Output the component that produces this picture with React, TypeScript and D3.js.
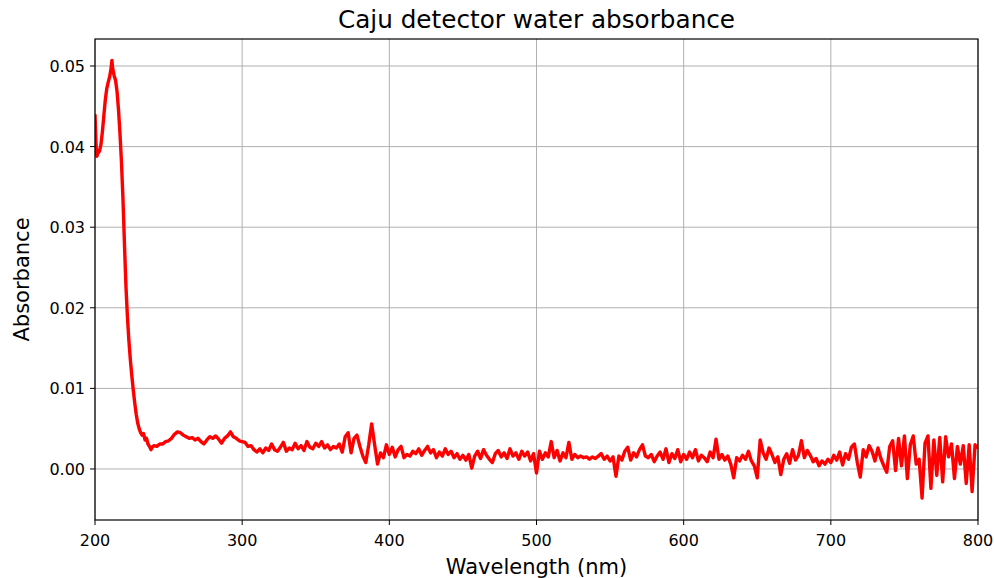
import React from "react";
import * as d3 from "d3";

// UV peak region (wavelength nm, absorbance)
const peakRegion: [number, number][] = [
  [200, 0.044], [200.7, 0.0402], [201.3, 0.0388], [202, 0.0392], [203, 0.0394], [204, 0.0402],
  [205, 0.0418], [206, 0.0438], [207, 0.0458], [208, 0.0472], [209, 0.048], [210, 0.0487],
  [211, 0.0498], [211.5, 0.0507], [212, 0.0497], [213, 0.0488], [214, 0.0482], [215, 0.0468],
  [216, 0.0445], [217, 0.0415], [218, 0.038], [219, 0.0335], [220, 0.028], [221, 0.0228],
  [222, 0.019], [223, 0.016], [224, 0.0136], [225, 0.0116], [226, 0.0098], [227, 0.0082],
  [228, 0.0068], [229, 0.0057], [230, 0.005], [231, 0.0045], [232, 0.0042], [233, 0.0044],
  [234, 0.0036], [235, 0.0038], [236, 0.0031], [237, 0.0028], [238, 0.0024], [239, 0.0027],
  [240, 0.0029],
];

// 242 – 400 nm
const nearUV: [number, number][] = [
  [242, 0.0028], [244, 0.0031], [246, 0.0031], [248, 0.0034], [250, 0.0035], [252, 0.0038],
  [254, 0.0043], [256, 0.0046], [258, 0.0045], [260, 0.0042], [262, 0.004], [264, 0.0038],
  [266, 0.0039], [268, 0.0036], [270, 0.0038], [272, 0.0034], [274, 0.0031], [276, 0.0036],
  [278, 0.004], [280, 0.0038], [282, 0.0041], [284, 0.0037], [286, 0.0032], [288, 0.0038],
  [290, 0.0041], [292, 0.0046], [294, 0.004], [296, 0.0038], [298, 0.0035], [300, 0.0034],
  [302, 0.0033], [304, 0.0028], [306, 0.0029], [308, 0.0024], [310, 0.0021], [312, 0.0025],
  [314, 0.002], [316, 0.0026], [318, 0.0023], [320, 0.0031], [322, 0.0024], [324, 0.0022],
  [326, 0.0027], [328, 0.0033], [330, 0.0022], [332, 0.0026], [334, 0.0024], [336, 0.0032],
  [338, 0.0025], [340, 0.0029], [342, 0.0023], [344, 0.0034], [346, 0.0027], [348, 0.0025],
  [350, 0.0032], [352, 0.0028], [354, 0.0034], [356, 0.0026], [358, 0.003], [360, 0.0024],
  [362, 0.0028], [364, 0.0026], [366, 0.0031], [368, 0.0021], [370, 0.004], [372, 0.0045],
  [374, 0.002], [376, 0.0038], [378, 0.0042], [380, 0.0028], [382, 0.0016], [384, 0.0008],
  [386, 0.003], [388, 0.0056], [390, 0.003], [392, 0.0006], [394, 0.002], [396, 0.0014],
  [398, 0.003], [400, 0.0018],
];

// 402 – 600 nm
const visibleMid: [number, number][] = [
  [402, 0.0027], [404, 0.0015], [406, 0.0024], [408, 0.0028], [410, 0.0014], [412, 0.0018],
  [414, 0.0016], [416, 0.0022], [418, 0.0019], [420, 0.0025], [422, 0.0017], [424, 0.0023],
  [426, 0.0028], [428, 0.002], [430, 0.0024], [432, 0.0014], [434, 0.0021], [436, 0.0016],
  [438, 0.0025], [440, 0.0018], [442, 0.0022], [444, 0.0014], [446, 0.0019], [448, 0.0012],
  [450, 0.0017], [452, 0.0011], [454, 0.0018], [456, 0.0001], [458, 0.0016], [460, 0.0022],
  [462, 0.0013], [464, 0.0024], [466, 0.0017], [468, 0.0012], [470, 0.0008], [472, 0.0019],
  [474, 0.0023], [476, 0.0015], [478, 0.002], [480, 0.0013], [482, 0.0025], [484, 0.0016],
  [486, 0.002], [488, 0.0012], [490, 0.0022], [492, 0.0016], [494, 0.0021], [496, 0.001],
  [498, 0.0019], [500, -0.0005], [502, 0.0022], [504, 0.0012], [506, 0.002], [508, 0.0015],
  [510, 0.0034], [512, 0.0014], [514, 0.0023], [516, 0.001], [518, 0.002], [520, 0.0014],
  [522, 0.0033], [524, 0.0012], [526, 0.0018], [528, 0.0014], [530, 0.0016], [532, 0.0014],
  [534, 0.0015], [536, 0.0012], [538, 0.0015], [540, 0.0013], [542, 0.0016], [544, 0.0019],
  [546, 0.0012], [548, 0.0016], [550, 0.001], [552, 0.0015], [554, -0.0009], [556, 0.0016],
  [558, 0.0011], [560, 0.0022], [562, 0.0027], [564, 0.0011], [566, 0.002], [568, 0.0015],
  [570, 0.0024], [572, 0.003], [574, 0.0016], [576, 0.0014], [578, 0.0018], [580, 0.0009],
  [582, 0.0016], [584, 0.0021], [586, 0.0012], [588, 0.0025], [590, 0.0008], [592, 0.0019],
  [594, 0.0013], [596, 0.0024], [598, 0.0009], [600, 0.0018],
];

// 602 – 800 nm
const visibleRed: [number, number][] = [
  [602, 0.0012], [604, 0.0021], [606, 0.0014], [608, 0.0024], [610, 0.001], [612, 0.0017],
  [614, 0.0014], [616, 0.0009], [618, 0.0021], [620, 0.0014], [622, 0.0037], [624, 0.0012],
  [626, 0.0018], [628, 0.0011], [630, 0.0016], [632, 0.0006], [634, -0.0011], [636, 0.0014],
  [638, 0.001], [640, 0.0017], [642, 0.0012], [644, 0.0022], [646, 0.001], [648, 0.0004],
  [650, -0.0011], [652, 0.0036], [654, 0.002], [656, 0.0012], [658, 0.0026], [660, 0.0018],
  [662, 0.0008], [664, 0.0015], [666, -0.0007], [668, 0.0012], [670, 0.0019], [672, 0.0007],
  [674, 0.0024], [676, 0.0011], [678, 0.0017], [680, 0.0035], [682, 0.0014], [684, 0.0023],
  [686, 0.0017], [688, 0.0009], [690, 0.0013], [692, 0.0004], [694, 0.001], [696, 0.0006],
  [698, 0.0012], [700, 0.0008], [702, 0.0017], [704, 0.0011], [706, 0.0021], [708, 0.0005],
  [710, 0.0019], [712, 0.0012], [714, 0.0027], [716, 0.0031], [718, 0.0008], [720, -0.001],
  [722, 0.0024], [724, 0.0015], [726, 0.0029], [728, 0.0022], [730, 0.001], [732, 0.0026],
  [734, 0.0013], [736, 0.0004], [738, -0.0004], [740, 0.0028], [742, 0.0035], [744, -0.0002],
  [746, 0.0038], [748, 0.0004], [750, 0.0041], [752, -0.0012], [754, 0.003], [756, 0.0041],
  [758, 0.0006], [760, 0.0012], [762, -0.0036], [764, 0.0032], [766, 0.0041], [768, -0.0024],
  [770, 0.0036], [772, -0.0008], [774, 0.0039], [776, -0.0016], [778, 0.004], [780, 0.0015],
  [782, 0.0031], [784, -0.0012], [786, 0.0028], [788, 0.0006], [790, 0.0029], [792, -0.0018],
  [794, 0.003], [796, -0.0028], [798, 0.003], [800, 0.0026],
];

const xTicks = [200, 300, 400, 500, 600, 700, 800];
const yTicks = [0, 0.01, 0.02, 0.03, 0.04, 0.05];
const yTickLabels = ["0.00", "0.01", "0.02", "0.03", "0.04", "0.05"];

const W = 994;
const H = 578;
const M = { left: 95, right: 978, top: 39, bottom: 520 };
const FONT = "DejaVu Sans, sans-serif";

export default function App() {
  const data = [...peakRegion, ...nearUV, ...visibleMid, ...visibleRed];
  const x = d3.scaleLinear().domain([200, 800]).range([M.left, M.right]);
  const y = d3.scaleLinear().domain([-0.00633, 0.05335]).range([M.bottom, M.top]);
  const line = d3
    .line<[number, number]>()
    .x((d) => x(d[0]))
    .y((d) => y(d[1]));

  return (
    <svg
      width={W}
      height={H}
      style={{ position: "absolute", left: 0, top: 0, background: "#fff" }}
      fontFamily={FONT}
    >
      <rect x={0} y={0} width={W} height={H} fill="#fff" />
      <defs>
        <clipPath id="plot">
          <rect x={M.left} y={M.top} width={M.right - M.left} height={M.bottom - M.top} />
        </clipPath>
      </defs>
      {xTicks.map((t) => (
        <line key={"gx" + t} x1={x(t)} x2={x(t)} y1={M.top} y2={M.bottom} stroke="#b0b0b0" strokeWidth={1} />
      ))}
      {yTicks.map((t) => (
        <line key={"gy" + t} x1={M.left} x2={M.right} y1={y(t)} y2={y(t)} stroke="#b0b0b0" strokeWidth={1} />
      ))}
      <path
        d={line(data) || ""}
        fill="none"
        stroke="#ff0000"
        strokeWidth={3.4}
        strokeLinejoin="round"
        clipPath="url(#plot)"
      />
      <rect
        x={M.left}
        y={M.top}
        width={M.right - M.left}
        height={M.bottom - M.top}
        fill="none"
        stroke="#000"
        strokeWidth={1.2}
      />
      {xTicks.map((t) => (
        <g key={"xt" + t}>
          <line x1={x(t)} x2={x(t)} y1={M.bottom} y2={M.bottom + 5} stroke="#000" />
          <text x={x(t)} y={M.bottom + 26} textAnchor="middle" fontSize={16} fill="#000">
            {t}
          </text>
        </g>
      ))}
      {yTicks.map((t, i) => (
        <g key={"yt" + t}>
          <line x1={M.left - 5} x2={M.left} y1={y(t)} y2={y(t)} stroke="#000" />
          <text x={M.left - 10} y={y(t) + 6} textAnchor="end" fontSize={16} fill="#000">
            {yTickLabels[i]}
          </text>
        </g>
      ))}
      <text x={(M.left + M.right) / 2} y={28} textAnchor="middle" fontSize={24.7} fill="#000">
        Caju detector water absorbance
      </text>
      <text x={(M.left + M.right) / 2} y={574} textAnchor="middle" fontSize={21} fill="#000">
        Wavelength (nm)
      </text>
      <text
        transform={`translate(29, ${(M.top + M.bottom) / 2}) rotate(-90)`}
        textAnchor="middle"
        fontSize={21}
        fill="#000"
      >
        Absorbance
      </text>
    </svg>
  );
}
